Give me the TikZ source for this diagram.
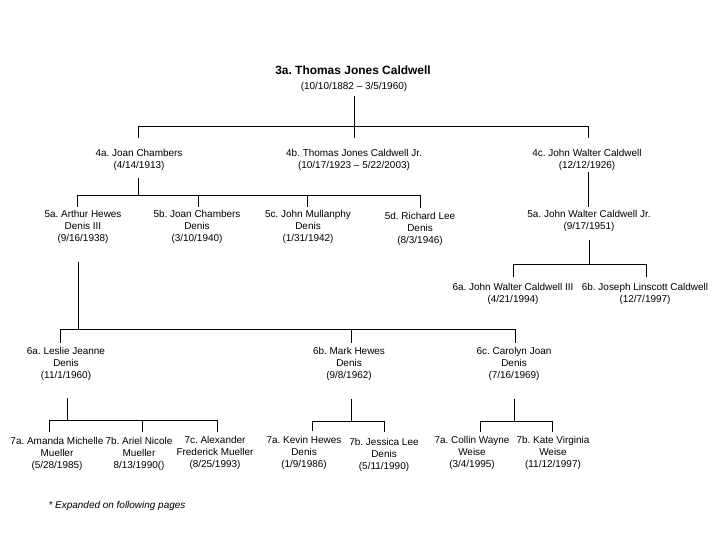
\documentclass[tikz,border=0pt]{standalone}
\usepackage{fontspec}
\setmainfont{Liberation Sans}
\usetikzlibrary{calc}
\frenchspacing
\begin{document}
\begin{tikzpicture}[x=1bp,y=-1bp,
  lbl/.style={anchor=north, inner sep=0pt, align=center, font=\fontsize{10}{12}\selectfont},
  ttl/.style={anchor=north, inner sep=0pt, align=center, font=\fontsize{12}{14}\selectfont\bfseries},
  note/.style={inner sep=0pt, font=\fontsize{10}{12}\selectfont\itshape},
  conn/.style={line width=0.9bp, draw=black}]
\useasboundingbox (0,0) rectangle (720,540);
\fill[white] (0,0) rectangle (720,540);

% ---- nodes ----
\node[ttl] (n3a) at (353,66) {3a. Thomas Jones Caldwell};
\node[lbl] (n3ad) at (354,82) {(10/10/1882 – 3/5/1960)};

\node[lbl] (n4a) at (139,149) {4a. Joan Chambers\\(4/14/1913)};
\node[lbl] (n4b) at (354,149) {4b. Thomas Jones Caldwell Jr.\\(10/17/1923 – 5/22/2003)};
\node[lbl] (n4c) at (587,149) {4c. John Walter Caldwell\\(12/12/1926)};

\node[lbl] (n5a) at (83,210) {5a. Arthur Hewes\\Denis III\\(9/16/1938)};
\node[lbl] (n5b) at (197,210) {5b. Joan Chambers\\Denis\\(3/10/1940)};
\node[lbl] (n5c) at (308,210) {5c. John Mullanphy\\Denis\\(1/31/1942)};
\node[lbl] (n5d) at (420,212) {5d. Richard Lee\\Denis\\(8/3/1946)};
\node[lbl] (n5e) at (589,210) {5a. John Walter Caldwell Jr.\\(9/17/1951)};

\node[lbl] (n6d) at (513,283) {6a. John Walter Caldwell III\\(4/21/1994)};
\node[lbl] (n6e) at (645,283) {6b. Joseph Linscott Caldwell\\(12/7/1997)};

\node[lbl] (n6a) at (66,347) {6a. Leslie Jeanne\\Denis\\(11/1/1960)};
\node[lbl] (n6b) at (349,347) {6b. Mark Hewes\\Denis\\(9/8/1962)};
\node[lbl] (n6c) at (514,347) {6c. Carolyn Joan\\Denis\\(7/16/1969)};

\node[lbl] (n7a) at (57,437) {7a. Amanda Michelle\\Mueller\\(5/28/1985)};
\node[lbl] (n7b) at (139,437) {7b. Ariel Nicole\\Mueller\\8/13/1990()};
\node[lbl] (n7c) at (215,436) {7c. Alexander\\Frederick Mueller\\(8/25/1993)};
\node[lbl] (n7d) at (304,436) {7a. Kevin Hewes\\Denis\\(1/9/1986)};
\node[lbl] (n7e) at (384,438) {7b. Jessica Lee\\Denis\\(5/11/1990)};
\node[lbl] (n7f) at (472,436) {7a. Collin Wayne\\Weise\\(3/4/1995)};
\node[lbl] (n7g) at (553,436) {7b. Kate Virginia\\Weise\\(11/12/1997)};

\node[note] (fn) at (117,506) {* Expanded on following pages};

% ---- connector points ----
\coordinate (p3t) at (354,96);  \coordinate (p3b) at (354,138);
\coordinate (c4a) at (138,138); \coordinate (c4c) at (588,138);

\coordinate (p4at) at (138,178); \coordinate (p4ab) at (138,195);
\coordinate (c5a) at (77,207);  \coordinate (c5b) at (198,207);
\coordinate (c5c) at (307,207); \coordinate (c5d) at (420,208);

\coordinate (p4ct) at (588,172); \coordinate (p4cb) at (588,207);

\coordinate (p5et) at (589,240); \coordinate (p5eb) at (589,264);
\coordinate (c6d) at (513,277); \coordinate (c6e) at (646,277);

\coordinate (p5at) at (78,262); \coordinate (p5ab) at (78,329);
\coordinate (c6a) at (60,343);  \coordinate (c6b) at (351,343); \coordinate (c6c) at (515,343);

\coordinate (p6at) at (67,398); \coordinate (p6ab) at (67,420);
\coordinate (c7a) at (49,432);  \coordinate (c7b) at (142,432); \coordinate (c7c) at (217,432);

\coordinate (p6bt) at (351,399); \coordinate (p6bb) at (351,421);
\coordinate (c7d) at (312,431);  \coordinate (c7e) at (384,432);

\coordinate (p6ct) at (514,399); \coordinate (p6cb) at (514,421);
\coordinate (c7f) at (480,432);  \coordinate (c7g) at (552,432);

% ---- connectors ----
\draw[conn] (p3t) -- (p3b);
\draw[conn] (c4a) -- (c4a |- 0,126) -- (c4c |- 0,126) -- (c4c);

\draw[conn] (p4at) -- (p4ab);
\draw[conn] (c5a) -- (c5a |- p4ab) -- (c5d |- p4ab) -- (c5d);
\draw[conn] (c5b |- p4ab) -- (c5b);
\draw[conn] (c5c |- p4ab) -- (c5c);

\draw[conn] (p4ct) -- (p4cb);

\draw[conn] (p5et) -- (p5eb);
\draw[conn] (c6d) -- (c6d |- p5eb) -- (c6e |- p5eb) -- (c6e);

\draw[conn] (p5at) -- (p5ab);
\draw[conn] (c6a) -- (c6a |- p5ab) -- (c6c |- p5ab) -- (c6c);
\draw[conn] (c6b |- p5ab) -- (c6b);

\draw[conn] (p6at) -- (p6ab);
\draw[conn] (c7a) -- (c7a |- p6ab) -- (c7c |- p6ab) -- (c7c);
\draw[conn] (c7b |- p6ab) -- (c7b);

\draw[conn] (p6bt) -- (p6bb);
\draw[conn] (c7d) -- (c7d |- p6bb) -- (c7e |- p6bb) -- (c7e);

\draw[conn] (p6ct) -- (p6cb);
\draw[conn] (c7f) -- (c7f |- p6cb) -- (c7g |- p6cb) -- (c7g);
\end{tikzpicture}
\end{document}
